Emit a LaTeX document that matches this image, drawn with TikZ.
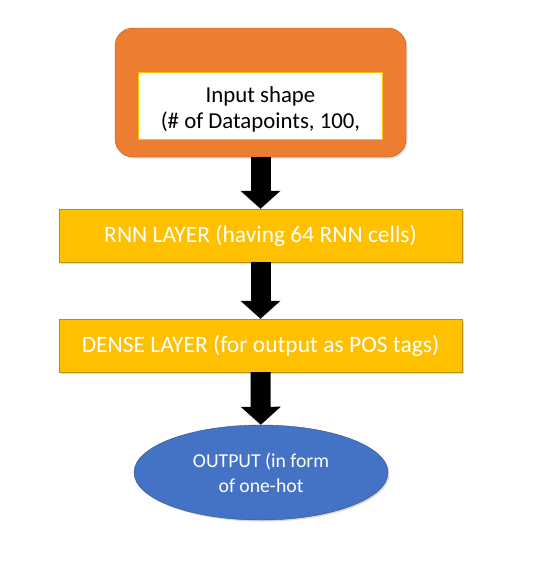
\documentclass[tikz,border=0pt]{standalone}
\usepackage{fontspec}
\setmainfont{Carlito}
\usetikzlibrary{arrows.meta,shadows,shapes.geometric}

\definecolor{inorange}{HTML}{ED7D31}
\definecolor{inorangeline}{HTML}{AE5A21}
\definecolor{laygold}{HTML}{FFC000}
\definecolor{laygoldline}{HTML}{BF9000}
\definecolor{outblue}{HTML}{4472C4}
\definecolor{outblueline}{HTML}{2F528F}

\begin{document}
\begin{tikzpicture}
			[x=1pt,y=-1pt,
			shade/.style={drop shadow={opacity=.3,shadow xshift=1.5pt,shadow yshift=-1.5pt}},
			layer/.style={rectangle,draw=laygoldline,fill=laygold,text=white,minimum width=403pt,minimum height=53pt,inner sep=0pt,font=\fontsize{23.5}{28}\selectfont,shade},
			edge/.style={line width=20pt,-{Triangle[width=39pt,length=18pt]}}]
			\useasboundingbox (0,0) rectangle (545,562);
			\node[rectangle,rounded corners=18pt,draw=inorangeline,fill=inorange,minimum width=291pt,minimum height=129pt,shade] (input) at (260.5,92.5) {};
			\node[rectangle,draw=laygold,fill=white,minimum width=244pt,minimum height=67pt,inner sep=0pt,
			label={[align=center,font=\fontsize{22.8}{26}\selectfont,yshift=-3.5pt]center:Input shape\\(\# of Datapoints, 100,}] (shape) at (260.5,105.5) {};
			\node[layer] (rnn) at (260.5,235.5) {RNN LAYER (having 64 RNN cells)};
			\node[layer] (dense) at (260.5,345.5) {DENSE LAYER (for output as POS tags)};
			\node[ellipse,draw=outblueline,fill=outblue,text=white,minimum width=254pt,minimum height=95pt,inner sep=0pt,align=center,font=\fontsize{19.7}{25}\selectfont,shade] (output) at (261,472.5) {OUTPUT (in form\\of one-hot};
			
			\foreach \from/\to in {input/rnn,rnn/dense,dense/output}
			\draw[edge] (\from) to (\to);
			\end{tikzpicture}
\end{document}
